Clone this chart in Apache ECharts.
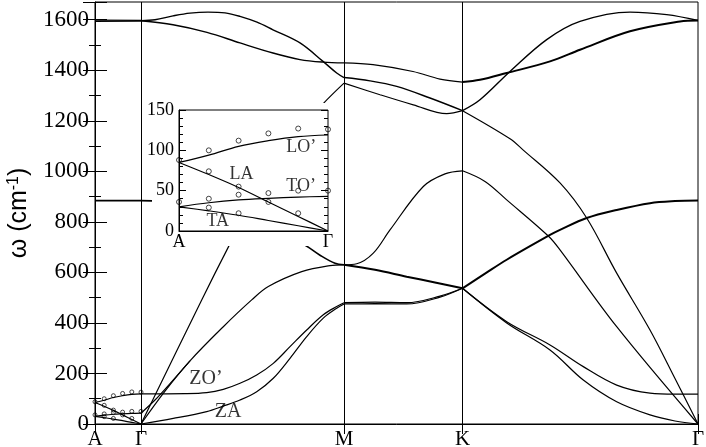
<!DOCTYPE html>
<html>
<head>
<meta charset="utf-8">
<script src="https://cdn.jsdelivr.net/npm/echarts@6/dist/echarts.min.js"></script>
<style>
  html, body { margin: 0; padding: 0; background: #fff; }
  #chart { width: 706px; height: 447px; }
</style>
</head>
<body>
<div id="chart"></div>
<script>
// high-symmetry points along the path (same units as the figure's x spacing)
var kTicks = [0, 46, 249, 367.5, 603];
var kNames = ['A', 'Γ', 'M', 'K', 'Γ'];

// A-Γ branches, x is the fraction of the A-Γ distance (inset + main)
var agLO = [[0, 85], [0.2, 94], [0.4, 105], [0.6, 112], [0.8, 117], [1, 119]];
var agLA = [[0, 85], [0.2, 70], [0.4, 54], [0.6, 36], [0.8, 18], [1, 0]];
var agTO = [[0, 30], [0.2, 35], [0.4, 38.5], [0.6, 40.5], [0.8, 42], [1, 43]];
var agTA = [[0, 30], [0.2, 25], [0.4, 19.5], [0.6, 13], [0.8, 6.5], [1, 0]];
var agHi1 = [[0, 1598], [1, 1597]];
var agHi2 = [[0, 1593], [1, 1594]];
var agZO = [[0, 884], [1, 884]];
// measured points (circles)
var agExp = [[0, 88], [0.2, 100], [0.4, 112], [0.6, 121], [0.8, 127], [1, 126],
             [0.2, 74], [0.4, 55], [0.4, 45], [0.6, 47], [0.8, 50], [1, 50],
             [0, 36], [0.2, 40], [0.2, 29], [0.4, 22], [0.6, 36], [0.8, 22]];

// Γ-M
var gmLO = [[46, 1596], [60, 1600], [78, 1615], [95, 1626], [113, 1630], [130, 1627], [145, 1613], [162, 1590], [178, 1560], [205, 1508], [228, 1435], [241.7, 1389], [249, 1371]];
var gmTO = [[46, 1596], [78, 1580], [112, 1550], [145, 1508], [178, 1468], [205, 1442], [228, 1432], [249, 1429]];
var gmLA = [[46, 0], [106.7, 491], [133.3, 700], [165, 940], [195, 1120], [228, 1267], [249, 1349]];
var gmZO = [[46, 884], [65, 882], [105, 860], [155, 800], [206.7, 715], [225, 668], [240, 636], [249, 630]];
var gmTA = [[46, 0], [70, 130], [95, 250], [128.3, 385], [156.7, 491], [173.3, 544], [206.7, 603], [235, 627], [249, 630]];
var gmTA2 = [[46, 43], [60, 95], [75, 160], [95, 250]];
var gmZO2 = [[46, 119], [90, 120], [111.7, 124], [128.3, 137], [145, 161], [161.7, 194], [178.3, 240], [195, 306], [211.7, 372], [228.3, 432], [241.7, 465], [249, 480]];
var gmZA = [[46, 0], [78.3, 22], [111.7, 49], [128.3, 71], [145, 95], [161.7, 128], [178.3, 181], [195, 260], [211.7, 346], [228.3, 419], [241.7, 458], [249, 475]];

// M-K
var mkLO = [[249, 1371], [275, 1358], [301.7, 1336], [335, 1290], [367.5, 1240]];
var mkTO = [[249, 1429], [278, 1422], [318, 1395], [345, 1365], [367.5, 1353]];
var mkLA = [[249, 1349], [285, 1303], [318.3, 1263], [351.7, 1228], [367.5, 1240]];
var mkTA = [[249, 630], [261.7, 634], [278.3, 676], [295, 768], [328.3, 940], [350, 990], [367.5, 1002]];
var mkZO = [[249, 630], [280, 610], [311.7, 583], [340, 560], [367.5, 537]];
var mkZO2 = [[249, 480], [280, 482], [311.7, 480], [345, 506], [367.5, 537]];
var mkZA = [[249, 475], [280, 476], [311.7, 475], [345, 502], [367.5, 537]];

// K-Γ
var kgLO = [[367.5, 1240], [415, 1129], [428, 1085], [465, 954], [491.7, 815], [521.7, 597], [555, 372], [580, 180], [603, 0]];
var kgTO = [[367.5, 1353], [385, 1362], [411.7, 1389], [455, 1435], [485, 1481], [535, 1554], [585, 1593], [603, 1597]];
var kgLA = [[367.5, 1240], [385, 1283], [415, 1395], [451.7, 1521], [485, 1593], [535, 1630], [571.7, 1620], [603, 1597]];
var kgTA = [[367.5, 1002], [390, 960], [411.7, 887], [453.3, 744], [465, 689], [521.7, 385], [603, 0]];
var kgZO = [[367.5, 537], [411.7, 405], [455, 313], [488.3, 227], [521.7, 154], [555, 122], [580, 118], [603, 118]];
var kgZA = [[367.5, 537], [411.7, 400], [455, 293], [488.3, 174], [521.7, 88], [555, 36], [580, 12], [603, 0]];
var kgZO2 = [[367.5, 537], [390, 595], [411.7, 650], [455, 748], [465, 768], [491.7, 815], [521.7, 847], [555, 874], [580, 882], [603, 884]];

var serif = "'Liberation Serif', 'Times New Roman', serif";

function toMain(arr){
    return arr.map(function(p){ return [p[0] * kTicks[1], p[1]]; });
}
function line(data, w, extra){
    return Object.assign({
        type: 'line', data: data, xAxisIndex: 0, yAxisIndex: 0,
        symbol: 'none', smooth: 0.35, silent: true, z: 2,
        lineStyle: { color: '#000', width: w || 1.2 }
    }, extra || {});
}
function insetLine(data){
    return {
        type: 'line', data: data, xAxisIndex: 2, yAxisIndex: 2,
        symbol: 'none', smooth: 0.35, silent: true, z: 13,
        lineStyle: { color: '#000', width: 1.2 }
    };
}
function label(x, y, text, xi, yi, z){
    return {
        type: 'scatter', xAxisIndex: xi, yAxisIndex: yi, symbolSize: 0, silent: true, z: z,
        data: [{ value: [x, y], name: text }],
        label: { show: true, position: 'inside', formatter: '{b}', color: '#000', fontFamily: serif, fontSize: xi === 0 ? 20 : 18 }
    };
}
function tickName(v){
    var i = kTicks.indexOf(v);
    return i >= 0 ? kNames[i] : '';
}
function circles(data, xi, yi, size, z){
    return {
        type: 'scatter', data: data, xAxisIndex: xi, yAxisIndex: yi, silent: true, z: z,
        symbol: 'circle', symbolSize: size,
        itemStyle: { color: 'rgba(0,0,0,0)', borderColor: '#000', borderWidth: 0.9 }
    };
}

var series = [
    line(toMain(agHi1)), line(toMain(agHi2)), line(toMain(agZO), 1.6),
    line(toMain(agLO)), line(toMain(agLA)), line(toMain(agTO)), line(toMain(agTA)),
    circles(toMain(agExp), 0, 0, 4, 3),
    line(gmLO, 1.4, {
        markLine: {
            silent: true, symbol: ['none', 'none'], animation: false,
            label: { show: false },
            lineStyle: { color: '#000', width: 1, type: 'solid' },
            data: kTicks.slice(1, 4).map(function(v){ return { xAxis: v }; })
        }
    }),
    line(gmTO, 1.4), line(gmLA), line(gmZO, 1.6), line(gmTA), line(gmTA2), line(gmZO2), line(gmZA),
    line(mkLO, 1.4), line(mkTO), line(mkLA), line(mkTA), line(mkZO, 2), line(mkZO2), line(mkZA),
    line(kgLO), line(kgTO, 2), line(kgLA, 1.4), line(kgTA), line(kgZO), line(kgZA), line(kgZO2, 2),
    label(111, 178, 'ZO’', 0, 0, 3),
    label(133, 50, 'ZA', 0, 0, 3),
    insetLine(agLO), insetLine(agLA), insetLine(agTO), insetLine(agTA),
    circles(agExp, 2, 2, 5, 14),
    label(0.82, 104, 'LO’', 2, 2, 14),
    label(0.42, 70, 'LA', 2, 2, 14),
    label(0.82, 56, 'TO’', 2, 2, 14),
    label(0.26, 12, 'TA', 2, 2, 14)
];

var chart = echarts.init(document.getElementById('chart'));
chart.setOption({
    animation: false,
    backgroundColor: '#fff',
    grid: [
        { left: 95, top: 2, width: 603, height: 422, outerBoundsMode: 'none', containLabel: false,
          show: true, borderColor: '#000', borderWidth: 1, backgroundColor: 'transparent' },
        { left: 152, top: 103, width: 188, height: 143, outerBoundsMode: 'none', containLabel: false,
          show: true, backgroundColor: '#fff', borderWidth: 0, z: 10 },
        { left: 179, top: 110, width: 149, height: 121, outerBoundsMode: 'none', containLabel: false,
          show: true, backgroundColor: '#fff', borderColor: '#000', borderWidth: 1, z: 11 }
    ],
    xAxis: [
        {
            type: 'value', gridIndex: 0, min: 0, max: kTicks[4],
            splitLine: { show: false },
            axisLine: { show: true, lineStyle: { color: '#000' } },
            axisTick: { show: true, inside: true, length: 10, customValues: kTicks, lineStyle: { color: '#000' } },
            axisLabel: { customValues: kTicks, formatter: tickName, color: '#000', fontFamily: serif, fontSize: 21, margin: 5 }
        },
        {
            type: 'value', gridIndex: 0, position: 'top', min: 0, max: kTicks[4],
            splitLine: { show: false },
            axisLine: { show: false },
            axisTick: { show: true, inside: true, length: 10, customValues: kTicks, lineStyle: { color: '#000' } },
            axisLabel: { show: false }
        },
        {
            type: 'value', gridIndex: 2, min: 0, max: 1, z: 12,
            splitLine: { show: false },
            axisLine: { show: true, lineStyle: { color: '#000' } },
            axisTick: { show: false },
            axisLabel: { customValues: [0, 1], formatter: function(v){ return v === 0 ? 'A' : 'Γ'; }, color: '#000', fontFamily: serif, fontSize: 18, margin: 2 }
        }
    ],
    yAxis: [
        {
            type: 'value', gridIndex: 0, min: 0, max: 1670, interval: 200,
            name: 'ω (cm{s|-1})', nameLocation: 'middle', nameGap: 42,
            nameTextStyle: {
                color: '#000', fontFamily: 'Liberation Sans', fontSize: 25,
                rich: { s: { fontFamily: 'Liberation Sans', fontSize: 16, verticalAlign: 'top', padding: [0, 0, 12, 0] } }
            },
            splitLine: { show: false },
            axisLine: { show: true, lineStyle: { color: '#000' } },
            axisTick: { show: true, inside: true, length: 12, lineStyle: { color: '#000' } },
            minorTick: { show: true, splitNumber: 2, length: 6, lineStyle: { color: '#000' } },
            axisLabel: { color: '#000', fontFamily: serif, fontSize: 23, margin: 6, showMaxLabel: false,
                formatter: function(v){ return v % 200 === 0 ? String(v) : ''; } }
        },
        {
            type: 'value', gridIndex: 0, position: 'right', min: 0, max: 1670, interval: 200,
            splitLine: { show: false },
            axisLine: { show: false },
            axisTick: { show: true, inside: true, length: 12, lineStyle: { color: '#000' } },
            minorTick: { show: true, splitNumber: 2, length: 6, lineStyle: { color: '#000' } },
            axisLabel: { show: false }
        },
        {
            type: 'value', gridIndex: 2, min: 0, max: 150, interval: 50, z: 12,
            splitLine: { show: false },
            axisLine: { show: true, lineStyle: { color: '#000' } },
            axisTick: { show: true, inside: true, length: 7, lineStyle: { color: '#000' } },
            minorTick: { show: true, splitNumber: 5, length: 4, lineStyle: { color: '#000' } },
            axisLabel: { color: '#000', fontFamily: serif, fontSize: 18, margin: 5 }
        },
        {
            type: 'value', gridIndex: 2, position: 'right', min: 0, max: 150, interval: 50, z: 12,
            splitLine: { show: false },
            axisLine: { show: false },
            axisTick: { show: true, inside: true, length: 7, lineStyle: { color: '#000' } },
            minorTick: { show: true, splitNumber: 5, length: 4, lineStyle: { color: '#000' } },
            axisLabel: { show: false }
        }
    ],
    series: series
});
</script>
</body>
</html>
